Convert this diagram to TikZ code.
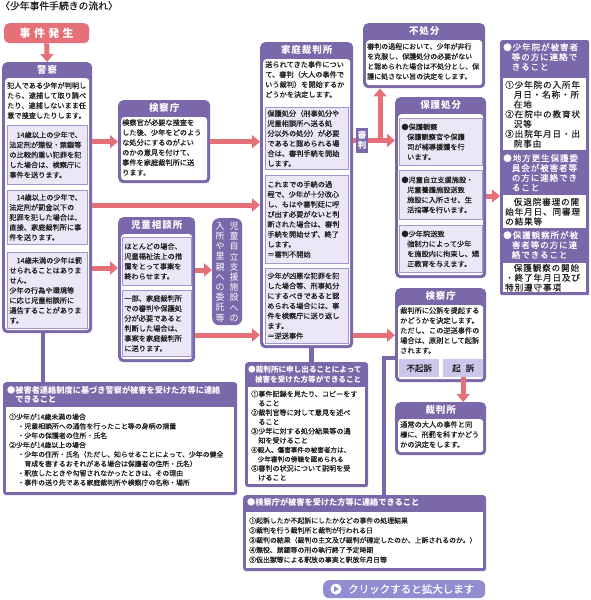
\documentclass[tikz,border=0pt]{standalone}
\usepackage{fontspec}
\setmainfont{Noto Sans CJK JP}
\newfontfamily\bodyjp{Noto Sans CJK JP}[FakeBold=0.4]
\newfontfamily\widejp{Noto Sans CJK JP}[LetterSpace=10]
\newfontfamily\sidejp{Noto Sans CJK JP}[LetterSpace=10, FakeBold=0.3]
\newfontfamily\spreadjp{Noto Sans CJK JP}[LetterSpace=30]
\usetikzlibrary{positioning,arrows.meta,calc}
\definecolor{frame}{RGB}{123,104,170}
\definecolor{subfill}{RGB}{235,231,247}
\definecolor{subline}{RGB}{163,149,206}
\definecolor{salmon}{RGB}{230,112,120}
\definecolor{ink}{RGB}{30,30,30}
\definecolor{btn}{RGB}{146,140,208}
\definecolor{pill}{RGB}{206,198,234}
\newcommand\bodyfont{\bodyjp\fontsize{7.2}{10}\selectfont}
\newcommand\notefont{\bodyjp\fontsize{6.9}{9.4}\selectfont}
\newcommand\ttlfont{\widejp\bfseries\fontsize{9.5}{11}\selectfont}
\newcommand\sidefont{\sidejp\fontsize{8.6}{9.8}\selectfont}
\newcommand\notettl{\bfseries\fontsize{8.2}{9.6}\selectfont}
\tikzset{
  panel/.style={fill=frame, rounded corners=5pt, inner sep=0pt, anchor=north west},
  whitebox/.style={fill=white, rounded corners=3pt, inner sep=0pt},
  ttl/.style={text=white, font=\ttlfont, inner sep=0pt},
  txt/.style={text=ink, font=\bodyfont, inner sep=0pt, align=left, anchor=north west},
  subbox/.style={draw=subline, fill=subfill, line width=0.8pt, text=ink, font=\bodyfont, inner xsep=2pt, inner ysep=0pt, align=left, anchor=north west},
  notebox/.style={fill=white, text=ink, font=\notefont, inner xsep=3pt, inner ysep=0pt, align=left, anchor=north west},
  sidebox/.style={fill=white, text=ink, font=\sidefont, inner xsep=2pt, inner ysep=0pt, align=left, anchor=north west, text width=79pt, minimum width=83pt},
  notehead/.style={txt, text=white, font=\notettl},
  sidehead/.style={txt, text=white, font=\sidefont},
  vcol/.style={text=white, font=\fontsize{9}{10.2}\selectfont, align=center, inner sep=0pt},
  pillbox/.style={fill=pill, text=ink, font=\bodyjp\fontsize{8.5}{9}\selectfont, minimum width=40pt, minimum height=18pt, inner sep=0pt, anchor=north west},
  redarrow/.style={draw=salmon, line width=5pt, -{Triangle[width=13pt,length=8pt]}},
  redline/.style={draw=salmon, line width=5pt},
  link/.style={draw=frame, line width=4.5pt}
}

\begin{document}
\begin{tikzpicture}[x=1pt, y=-1pt]
\fill[white] (0,0) rectangle (590,600);
\useasboundingbox (0,0) rectangle (590,600);

\node[txt, font=\bodyjp\fontsize{9.8}{11}\selectfont] (title) at (0,1) {〈少年事件手続きの流れ〉};
\node[panel, fill=salmon, minimum width=85pt, minimum height=20pt, text=white, font=\spreadjp\bfseries\fontsize{11}{12}\selectfont] (start) at (4,23) {事件発生};

% police
\node[panel, minimum width=90pt, minimum height=271pt] (police) at (2,62) {};
\node[ttl, below=3pt of police.north] (policeT) {警察};
\node[whitebox, minimum width=84pt, minimum height=252pt, above=3pt of police.south] (policeW) {};
\node[txt] (policeTx) at (7,82) {犯人である少年が判明し\\たら、逮捕して取り調べ\\たり、逮捕しないまま任\\意で捜査したりします。};
\node[subbox, text width=76pt, minimum height=59pt] (police1) at (7,125) {\hspace*{1em}14歳以上の少年で、\\法定刑が懲役・禁錮等\\の比較的重い犯罪を犯\\した場合は、検察庁に\\事件を送ります。};
\node[subbox, text width=76pt, minimum height=54pt] (police2) at (7,190) {\hspace*{1em}14歳以上の少年で、\\法定刑が罰金以下の\\犯罪を犯した場合は、\\直接、家庭裁判所に事\\件を送ります。};
\node[subbox, text width=76pt, minimum height=76pt] (police3) at (7,252) {\hspace*{1em}14歳未満の少年は罰\\せられることはありま\\せん。\\少年の行為や環境等\\に応じ児童相談所に\\通告することがありま\\す。};

% prosecutors
\node[panel, minimum width=92pt, minimum height=83pt] (prosec) at (118,100) {};
\node[ttl, below=3pt of prosec.north] (prosecT) {検察庁};
\node[whitebox, minimum width=86pt, minimum height=63pt, above=3pt of prosec.south] (prosecW) {};
\node[txt] (prosecTx) at (122,119) {検察官が必要な捜査を\\した後、少年をどのよう\\な処分にするのがよい\\のかの意見を付けて、\\事件を家庭裁判所に送\\ります。};

% child guidance centre
\node[panel, minimum width=77pt, minimum height=145pt] (guidance) at (118,217) {};
\node[ttl, below=3pt of guidance.north] (guidanceT) {児童相談所};
\node[whitebox, minimum width=71pt, minimum height=125pt, above=3pt of guidance.south] (guidanceW) {};
\node[subbox, text width=65pt, minimum height=48pt] (guidance1) at (122,237) {ほとんどの場合、\\児童福祉法上の措\\置をとって事案を\\終わらせます。};
\node[subbox, text width=65pt, minimum height=66pt] (guidance2) at (122,290) {一部、家庭裁判所\\での審判や保護処\\分が必要であると\\判断した場合は、\\事案を家庭裁判所\\に送ります。};

\node[panel, rounded corners=7pt, minimum width=30pt, minimum height=107pt] (facility) at (212,218) {};
\node[vcol, below=4pt of facility.north, xshift=7pt] (facilityR) {児\\童\\自\\立\\支\\援\\施\\設\\へ\\の};
\node[vcol, below=4pt of facility.north, xshift=-7pt] (facilityL) {入\\所\\や\\里\\親\\へ\\の\\委\\託\\等};

% family court
\node[panel, minimum width=93pt, minimum height=306pt] (family) at (260,42) {};
\node[ttl, below=3pt of family.north] (familyT) {家庭裁判所};
\node[whitebox, minimum width=87pt, minimum height=286pt, above=3pt of family.south] (familyW) {};
\node[txt] (familyTx) at (265,61) {送られてきた事件につい\\て、審判（大人の事件で\\いう裁判）を開始するか\\どうかを決定します。};
\node[subbox, text width=79pt, minimum height=62pt] (family1) at (265,107) {保護処分（刑事処分や\\児童相談所へ送る処\\分以外の処分）が必要\\であると認められる場\\合は、審判手続を開始\\します。};
\node[subbox, text width=79pt, minimum height=88pt] (family2) at (265,175) {これまでの手続の過\\程で、少年が十分改心\\し、もはや審判廷に呼\\び出す必要がないと判\\断された場合は、審判\\手続を開始せず、終了\\します。\\＝審判不開始};
\node[subbox, text width=79pt, minimum height=75pt] (family3) at (265,268) {少年が凶悪な犯罪を犯\\した場合等、刑事処分\\にするべきであると認\\められる場合には、事\\件を検察庁に送り返し\\ます。\\＝逆送事件};

\node[fill=frame, text=white, font=\bfseries\fontsize{8.5}{10}\selectfont, align=center, inner sep=0pt, minimum width=12pt, minimum height=25pt] (judge) at (362,140.5) {審\\判};

% dismissal
\node[panel, minimum width=122pt, minimum height=65pt] (dismiss) at (363,23) {};
\node[ttl, below=3pt of dismiss.north] (dismissT) {不処分};
\node[whitebox, minimum width=116pt, minimum height=45pt, above=3pt of dismiss.south] (dismissW) {};
\node[txt, font=\bodyjp\fontsize{7}{10}\selectfont] (dismissTx) at (367,43) {審判の過程において、少年が非行\\を克服し、保護処分の必要がない\\と認められた場合は不処分とし、保\\護に処さない旨の決定をします。};

% protective measures
\node[panel, minimum width=91pt, minimum height=181pt] (protect) at (395,97) {};
\node[ttl, below=3pt of protect.north] (protectT) {保護処分};
\node[whitebox, minimum width=85pt, minimum height=161pt, above=3pt of protect.south] (protectW) {};
\node[subbox, text width=79pt, minimum height=47pt] (protect1) at (399,118) {●保護観察\\\hspace*{0.8em}保護観察官や保護\\\hspace*{0.8em}司が補導援護を行\\\hspace*{0.8em}います。};
\node[subbox, text width=79pt, minimum height=49pt] (protect2) at (399,170) {●児童自立支援施設・\\\hspace*{0.8em}児童養護施設送致\\\hspace*{0.8em}施設に入所させ、生\\\hspace*{0.8em}活指導を行います。};
\node[subbox, text width=79pt, minimum height=47pt] (protect3) at (399,225) {●少年院送致\\\hspace*{0.8em}強制力によって少年\\\hspace*{0.8em}を施設内に拘束し、矯\\\hspace*{0.8em}正教育を与えます。};

% what may be told to victims
\node[panel, rounded corners=2pt, minimum width=89pt, minimum height=255pt] (notify) at (500,40) {};
\node[sidehead] (notifyH1) at (503,43) {●少年院が被害者\\\hspace*{1em}等の方に連絡で\\\hspace*{1em}きること};
\node[sidebox, minimum height=72pt] (notifyB1) at (503,78) {①少年院の入所年\\\hspace*{1em}月日・名称・所\\\hspace*{1em}在地\\②在院中の教育状\\\hspace*{1em}況等\\③出院年月日・出\\\hspace*{1em}院事由};
\node[sidehead] (notifyH2) at (503,154) {●地方更生保護委\\\hspace*{1em}員会が被害者等\\\hspace*{1em}の方に連絡でき\\\hspace*{1em}ること};
\node[sidebox, minimum height=33pt] (notifyB2) at (503,195) {\hspace*{1em}仮退院審理の開\\始年月日、同審理\\の結果等};
\node[sidehead] (notifyH3) at (503,231) {●保護観察所が被\\\hspace*{1em}害者等の方に連\\\hspace*{1em}絡できること};
\node[sidebox, minimum height=29pt] (notifyB3) at (503,263) {\hspace*{1em}保護観察の開始\\・終了年月日及び\\特別遵守事項};

% adult procedure
\node[panel, minimum width=91pt, minimum height=94pt] (prosec2) at (395,288) {};
\node[ttl, below=3pt of prosec2.north] (prosec2T) {検察庁};
\node[whitebox, minimum width=85pt, minimum height=74pt, above=3pt of prosec2.south] (prosec2W) {};
\node[txt] (prosec2Tx) at (400,307) {裁判所に公訴を提起する\\かどうかを決定します。\\ただし、この逆送事件の\\場合は、原則として起訴\\されます。};
\node[pillbox] (noindict) at (399,359) {不起訴};
\node[pillbox] (indict) at (443,359) {起\hspace{0.6em}訴};

\node[panel, minimum width=91pt, minimum height=53pt] (court) at (395,402) {};
\node[ttl, below=3pt of court.north] (courtT) {裁判所};
\node[whitebox, minimum width=85pt, minimum height=33pt, above=3pt of court.south] (courtW) {};
\node[txt] (courtTx) at (400,421) {通常の大人の事件と同\\様に、刑罰を科すかどう\\かの決定をします。};

% notices
\node[panel, rounded corners=3pt, minimum width=234pt, minimum height=113pt] (policeNote) at (3,382) {};
\node[notehead] (policeNoteH) at (7,386) {●被害者連絡制度に基づき警察が被害を受けた方等に連絡\\\hspace*{1em}できること};
\node[notebox, text width=222pt, minimum height=85pt] (policeNoteB) at (6,407) {①少年が14歳未満の場合\\\hspace*{1.2em}・児童相談所への通告を行ったこと等の身柄の措置\\\hspace*{1.2em}・少年の保護者の住所・氏名\\②少年が14歳以上の場合\\\hspace*{1.2em}・少年の住所・氏名（ただし、知らせることによって、少年の健全\\\hspace*{2.2em}育成を害するおそれがある場合は保護者の住所・氏名）\\\hspace*{1.2em}・釈放したときや勾留されなかったときは、その理由\\\hspace*{1.2em}・事件の送り先である家庭裁判所や検察庁の名称・場所};

\node[panel, rounded corners=3pt, minimum width=123pt, minimum height=125pt] (courtNote) at (245,362) {};
\node[notehead, font=\bfseries\fontsize{7.6}{9.4}\selectfont] (courtNoteH) at (248,366) {●裁判所に申し出ることによって\\\hspace*{0.9em}被害を受けた方等ができること};
\node[notebox, text width=111pt, minimum height=97pt, font=\bodyjp\fontsize{7.1}{9.3}\selectfont] (courtNoteB) at (248,387) {①事件記録を見たり、コピーをす\\\hspace*{1em}ること\\②裁判官等に対して意見を述べ\\\hspace*{1em}ること\\③少年に対する処分結果等の通\\\hspace*{1em}知を受けること\\{\fontsize{6.6}{9}\selectfont ④殺人、傷害事件の被害者方は、}\\{\fontsize{6.6}{9}\selectfont\hspace*{1em}少年審判の傍聴を認められる}\\⑤審判の状況について説明を受\\\hspace*{1em}けること};

\node[panel, rounded corners=3pt, minimum width=243pt, minimum height=76pt] (prosecNote) at (243,495) {};
\node[notehead] (prosecNoteH) at (247,498) {●検察庁が被害を受けた方等に連絡できること};
\node[notebox, text width=231pt, minimum height=56pt, font=\bodyjp\fontsize{6.9}{9.8}\selectfont] (prosecNoteB) at (246,512) {①起訴したか不起訴にしたかなどの事件の処理結果\\②裁判を行う裁判所と裁判が行われる日\\③裁判の結果（裁判の主文及び裁判が確定したのか、上訴されるのか。）\\④懲役、禁錮等の刑の執行終了予定時期\\⑤仮出獄等による釈放の事実と釈放年月日等};

\node[panel, fill=btn, rounded corners=6pt, minimum width=162pt, minimum height=18pt] (zoombtn) at (323,580) {};
\node[circle, fill=white, minimum size=11pt, inner sep=0pt] (zoomicon) at (336,589) {};
\fill[btn] ($(zoomicon.center)+(-1.8pt,2.8pt)$) -- ++(4.5pt,-2.8pt) -- ++(-4.5pt,-2.8pt) -- cycle;
\node[txt, text=white, font=\bodyjp\fontsize{10.5}{12}\selectfont, anchor=west] (zoomtext) at (348,589) {クリックすると拡大します};

% connectors
\draw[redarrow] (start.south) -- (police.north);
\draw[redarrow] (prosec.west -| police.east) -- (prosec.west);
\draw[redarrow] (prosec.east) -- (prosec.east -| family.west);
\draw[redarrow] (police.east |- 0,205) -- (family.west |- 0,205);
\draw[redarrow] (police.east |- 0,268) -- (guidance.west |- 0,268);
\draw[redarrow] (guidance.east |- 0,270) -- (facility.west |- 0,270);
\draw[redarrow] (guidance.east |- 0,335) -- (family.west |- 0,335);
\draw[redline] (family.east |- judge) -- (judge.west);
\coordinate (fork) at (380,140.5);
\draw[redline] (judge.east) -- (fork);
\draw[redarrow] (fork) -- (fork |- dismiss.south);
\draw[redarrow] (fork) -- (fork -| protect.west);
\draw[redarrow] (family.east |- prosec2) -- (prosec2.west);
\draw[redarrow] (protect.east |- 0,196) -- (notify.west |- 0,196);
\draw[redarrow] (indict.south) -- (indict.south |- court.north);
\draw[link] ([xshift=-4pt]police.south) -- ([xshift=-4pt]police.south |- policeNote.north);
\draw[link] ([xshift=5pt]family.south) -- ([xshift=5pt]family.south |- courtNote.north);
\coordinate (bend) at (384,358);
\draw[link] (prosec2.west |- bend) -- (bend) -- (bend |- prosecNote.north);
\end{tikzpicture}
\end{document}
